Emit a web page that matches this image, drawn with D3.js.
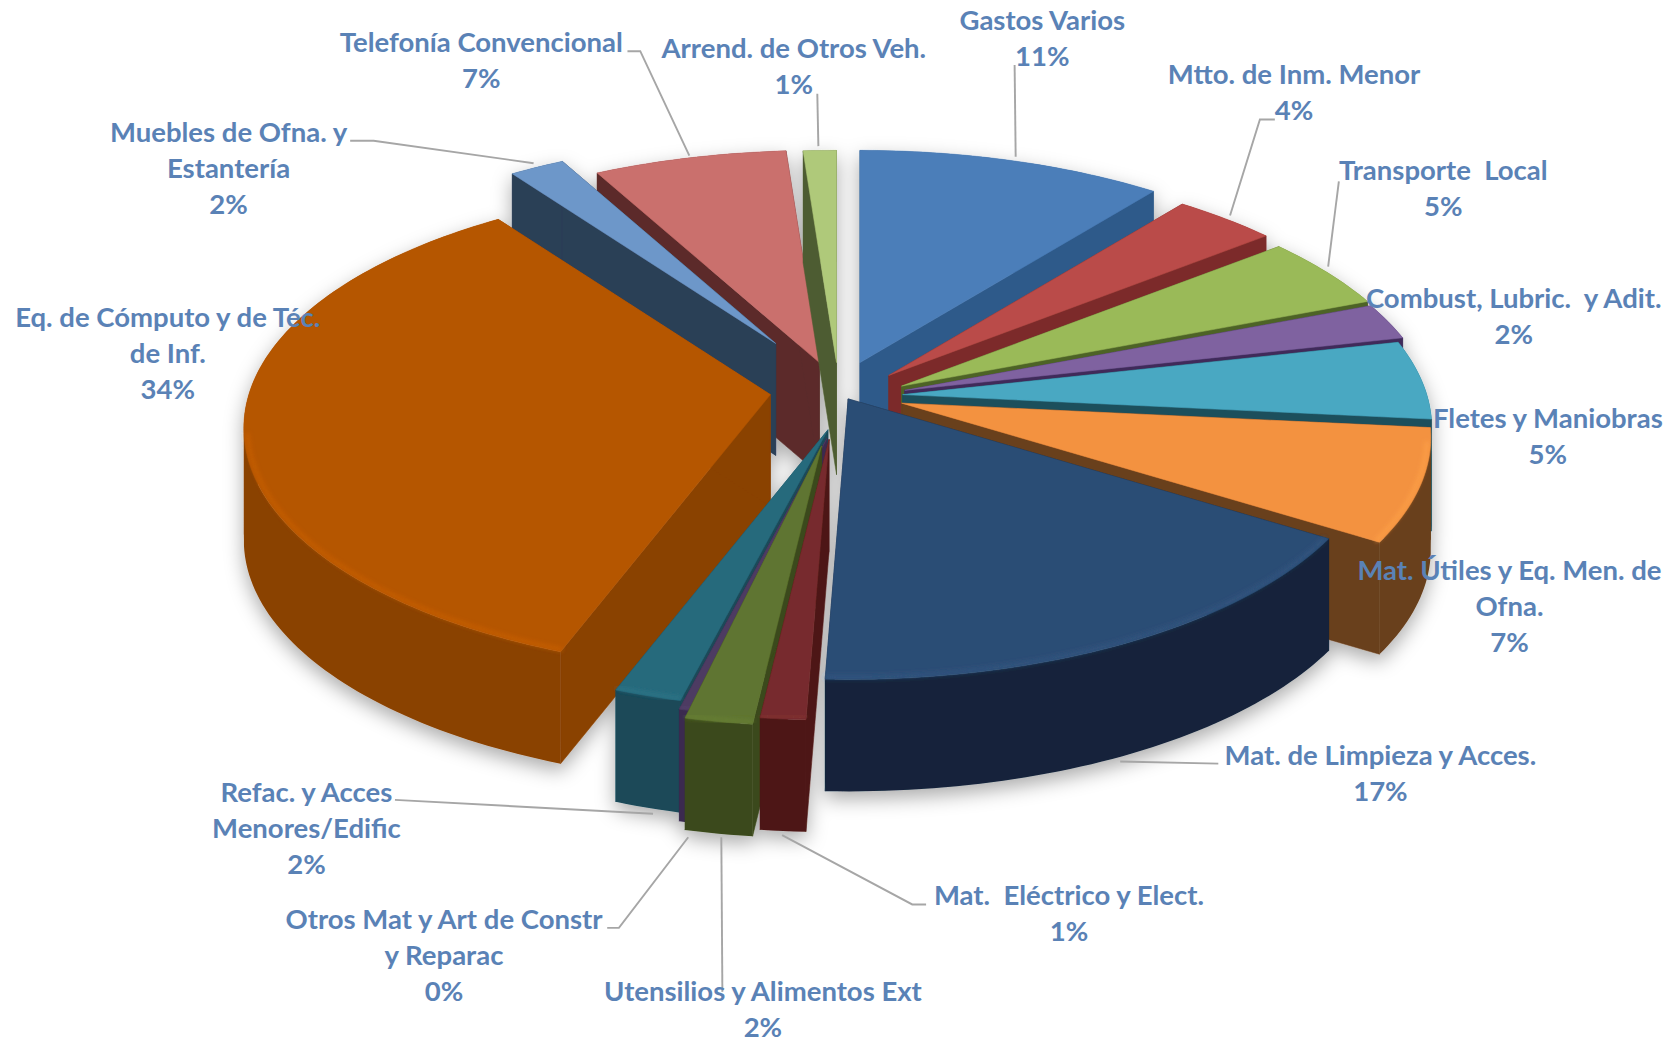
<!DOCTYPE html>
<html><head><meta charset="utf-8">
<script src="https://cdn.jsdelivr.net/npm/d3@7/dist/d3.min.js"></script>
<style>html,body{margin:0;padding:0;background:#fff}svg{display:block}text{white-space:pre}</style>
</head><body><div id="chart"></div>
<script>
const categories = ["Gastos Varios","Mtto. de Inm. Menor","Transporte  Local","Combust, Lubric.  y Adit.","Fletes y Maniobras","Mat. Útiles y Eq. Men. de|Ofna.","Mat. de Limpieza y Acces.","Mat.  Eléctrico y Elect.","Utensilios y Alimentos Ext","Otros Mat y Art de Constr|y Reparac","Refac. y Acces|Menores/Edific","Eq. de Cómputo y de Téc.|de Inf.","Muebles de Ofna. y|Estantería","Telefonía Convencional","Arrend. de Otros Veh."];
const shares = [10.6,3.6,4.8,2.4,5.2,7.4,16.6,1.2,1.8,0.3,1.8,34.45,2.0,6.7,1.15];
const topColors = ["#4b7eb9","#ba4b48","#9aba58","#7f62a0","#48a8c2","#f39241","#2c4d75","#772c2d","#5f7530","#4d3b62","#276a7c","#b55606","#6d97c9","#ca6f6d","#afc97a"];
const wallColors = ["#2f5a8a","#7b2c2a","#4e6328","#3f2c5a","#1f4f5c","#693f1b","#13233a","#4d1715","#3b4a1b","#3a2c50","#1a4958","#8a4204","#2c3f57","#5b2c2a","#4e5c31"];
// screen position of every slice's apex after its explosion, and its radial reach
const apexX = [806,833,845,848,846,845,795,777,770,775,776,722,727,768,784];
const apexY = [340,352,362,366,370,378,374,412,418,411,403,370,322,340,340];
const reach = [1,1,1,1,0.995,0.995,1,1,1,1,1,0.99,0.955,1,1];
const paintOrder = [13,14,12,0,1,2,3,4,5,11,6,10,9,8,7];
const labelX = [977,1213,1353,1419,1451,1415,1294,1002,715,416,287,157,214,451,744];
const labelY = [19,70,160,280,392,535,708,840,930,862,743,298,124,40,45];
const leaders = [
 [[951,61],[952,147]],
 [[1195,112],[1181,112],[1153,202]],
 [[1255,170],[1245,250]],
 [],[],[],
 [[1142,716],[1050,714]],
 [[868,848],[855,848],[733,783]],
 [[676,785],[677,930]],
 [[569,870],[580,870],[645,785]],
 [[370,750],[612,763]],
 [],
 [[328,132],[350,132],[500,153]],
 [[588,48],[600,48],[646,146]],
 [[766,88],[767,137]]
];
const W = 1568, H = 977, RX = 494, RY = 226.6, PERSP = 0.1385, DEPTH = 105;

const svg = d3.select("#chart").append("svg")
  .attr("width",1673).attr("height",1042).attr("viewBox",`0 0 ${W} ${H}`);
const defs = svg.append("defs");
const sh = defs.append("filter").attr("id","shadow").attr("x","-10%").attr("y","-10%").attr("width","120%").attr("height","125%");
sh.append("feDropShadow").attr("dx",0).attr("dy",7).attr("stdDeviation",9).attr("flood-color","#000").attr("flood-opacity",0.33);
defs.append("filter").attr("id","soft").append("feGaussianBlur").attr("stdDeviation",2);

const pie = d3.pie().sort(null).value(d=>d).startAngle(0).endAngle(2*Math.PI);
const arcs = pie(shares);
const total = d3.sum(shares);
const pct = d3.format(".0%");
const line = d3.line();

function project(t, r){
  const u = r*Math.sin(t), v = -r*Math.cos(t), w = 1-PERSP*v;
  return [RX*u/w, RY*v/w];
}
function rimAngles(a){
  const n = Math.max(2, Math.ceil((a.endAngle-a.startAngle)/0.02));
  return d3.range(n+1).map(k=>a.startAngle+(a.endAngle-a.startAngle)*k/n);
}
const down = (p,d)=>[p[0],p[1]+d];
const FRONT_V = 0.14;

const pieG = svg.append("g").attr("filter","url(#shadow)");

paintOrder.forEach(i=>{
  const a = arcs[i];
  const g = pieG.append("g").attr("transform",`translate(${apexX[i]},${apexY[i]})`);
  const angles = rimAngles(a);
  const rim = angles.map(t=>project(t,reach[i]));
  const apex = [0,0];
  const wallOf = list=>{
    const pts = list.map(t=>project(t,reach[i]));
    return line(pts.concat(pts.slice().reverse().map(p=>down(p,DEPTH))))+"Z";
  };
  const isFront = t=>-Math.cos(t)>FRONT_V;
  const back = angles.filter(t=>!isFront(t)), front = angles.filter(isFront);
  const fill = wallColors[i];
  if(back.length>1) g.append("path").attr("d",wallOf(back)).attr("fill",fill);
  [rim[0],rim[rim.length-1]].forEach(p=>{
    g.append("path").attr("d",line([apex,p,down(p,DEPTH),down(apex,DEPTH)])+"Z").attr("fill",fill)
      .attr("stroke",fill).attr("stroke-width",0.5);
  });
  if(front.length>1) g.append("path").attr("d",wallOf(front)).attr("fill",fill);
  g.append("path").attr("d",line([apex].concat(rim))+"Z").attr("fill",topColors[i])
    .attr("stroke",topColors[i]).attr("stroke-width",0.5);
  if(front.length>1){
    g.append("path").attr("d",line(front.map(t=>project(t,reach[i]*0.993))))
      .attr("fill","none").attr("stroke",d3.color(topColors[i]).brighter(0.3))
      .attr("stroke-opacity",0.75).attr("stroke-width",3.5).attr("filter","url(#soft)");
  }
});

const leaderG = svg.append("g");
leaders.forEach(pts=>{
  if(pts.length) leaderG.append("path").attr("d",line(pts)).attr("fill","none")
    .attr("stroke","#a6a6a6").attr("stroke-width",1.8);
});

const labelG = svg.append("g").attr("font-family","Lato, 'Open Sans', sans-serif")
  .attr("font-weight",700).attr("font-size",25.8).attr("fill","#5a82b6").attr("text-anchor","middle");
categories.forEach((c,i)=>{
  const rows = c.split("|").concat(pct(shares[i]/total));
  rows.forEach((s,k)=>{
    labelG.append("text").attr("x",labelX[i]).attr("y",labelY[i]+k*33.7+9).text(s);
  });
});
</script></body></html>
